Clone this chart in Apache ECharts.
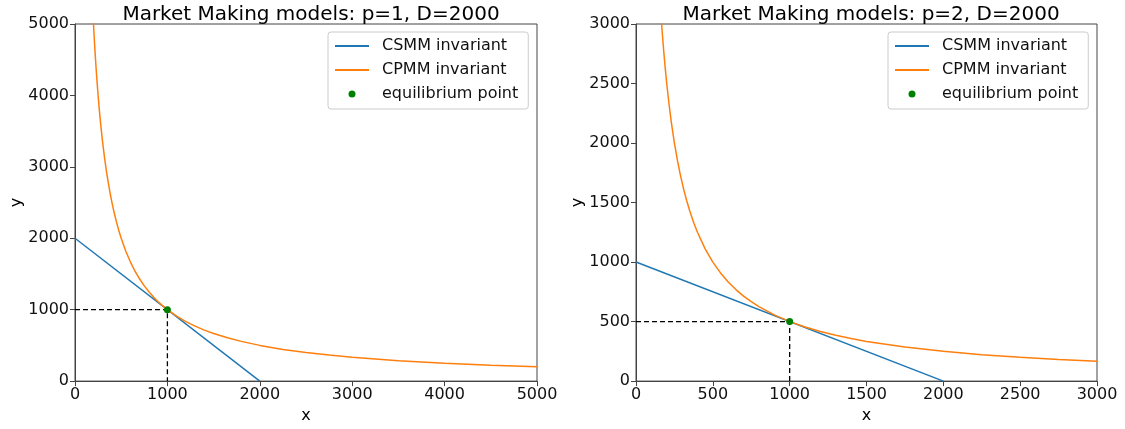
<!DOCTYPE html>
<html><head><meta charset="utf-8">
<script src="https://cdn.jsdelivr.net/npm/echarts@6/dist/echarts.min.js"></script>
<style>html,body{margin:0;padding:0;background:#fff}#c{width:1125px;height:429px}</style>
</head><body><div id="c"></div>
<script>
var titles = ['Market Making models: p=1, D=2000', 'Market Making models: p=2, D=2000'];
// Left panel: p=1, D=2000
var csmm1X = [0, 2000];
var csmm1Y = [2000, 0];
var cpmm1X = [195, 200, 210, 220, 230, 240, 250, 265, 280, 300, 320, 340, 360, 380, 400, 425, 450, 475, 500, 550, 600, 650, 700, 750, 800, 850, 900, 950, 1000, 1100, 1200, 1300, 1400, 1500, 1650, 1800, 2000, 2250, 2500, 2750, 3000, 3500, 4000, 4500, 5000];
var cpmm1Y = [5128, 5000, 4762, 4545, 4348, 4167, 4000, 3774, 3571, 3333, 3125, 2941, 2778, 2632, 2500, 2353, 2222, 2105, 2000, 1818, 1667, 1538, 1429, 1333, 1250, 1176, 1111, 1053, 1000, 909, 833, 769, 714, 667, 606, 556, 500, 444, 400, 364, 333, 286, 250, 222, 200];
var eq1 = [1000, 1000];
// Right panel: p=2, D=2000
var csmm2X = [0, 2000];
var csmm2Y = [1000, 0];
var cpmm2X = [160, 170, 180, 190, 200, 215, 230, 250, 270, 290, 310, 330, 350, 375, 400, 450, 500, 550, 600, 650, 700, 750, 800, 900, 1000, 1100, 1200, 1300, 1400, 1500, 1750, 2000, 2250, 2500, 2750, 3000];
var cpmm2Y = [3125, 2941, 2778, 2632, 2500, 2326, 2174, 2000, 1852, 1724, 1613, 1515, 1429, 1333, 1250, 1111, 1000, 909, 833, 769, 714, 667, 625, 556, 500, 455, 417, 385, 357, 333, 286, 250, 222, 200, 182, 167];
var eq2 = [1000, 500];
var xTicks1 = [0, 1000, 2000, 3000, 4000, 5000];
var yTicks1 = [0, 1000, 2000, 3000, 4000, 5000];
var xTicks2 = [0, 500, 1000, 1500, 2000, 2500, 3000];
var yTicks2 = [0, 500, 1000, 1500, 2000, 2500, 3000];
var legendNames = ['CSMM invariant', 'CPMM invariant', 'equilibrium point'];

var FONT = 'DejaVu Sans';
function zip(a, b) { return a.map(function (v, i) { return [v, b[i]]; }); }
function axis(ticks, gi, name, isY) {
  return {
    type: 'value', gridIndex: gi, min: ticks[0], max: ticks[ticks.length - 1],
    interval: ticks[1] - ticks[0],
    name: name, nameLocation: 'middle', nameGap: isY ? 50 : 22,
    nameTextStyle: { fontFamily: FONT, fontSize: 16, color: '#000' },
    axisLine: { show: true, onZero: false, lineStyle: { color: '#444', width: 1 } },
    axisTick: { show: true, length: 5, lineStyle: { color: '#444' } },
    axisLabel: { fontFamily: FONT, fontSize: 16, color: '#111', margin: 6, formatter: function (v) { return String(v); } },
    splitLine: { show: false }
  };
}
function seriesFor(gi, cx, cy, px, py, eq) {
  return [
    { name: legendNames[0], type: 'line', xAxisIndex: gi, yAxisIndex: gi, data: zip(cx, cy),
      symbol: 'none', lineStyle: { color: '#1f77b4', width: 1.5 }, itemStyle: { color: '#1f77b4' }, clip: true },
    { name: legendNames[1], type: 'line', xAxisIndex: gi, yAxisIndex: gi, data: zip(px, py),
      symbol: 'none', smooth: false, lineStyle: { color: '#ff7f0e', width: 1.5 }, itemStyle: { color: '#ff7f0e' }, clip: true },
    { name: 'guide', type: 'line', xAxisIndex: gi, yAxisIndex: gi,
      data: [[0, eq[1]], [eq[0], eq[1]], [eq[0], 0]], symbol: 'none',
      lineStyle: { color: '#000', width: 1.3, type: [5, 3] }, silent: true },
    { name: legendNames[2], type: 'scatter', xAxisIndex: gi, yAxisIndex: gi, data: [eq],
      symbol: 'circle', symbolSize: 7, itemStyle: { color: '#008000', opacity: 1 }, z: 5 }
  ];
}
var hiddenSym = { color: 'rgba(0,0,0,0)', borderWidth: 0, opacity: 0 };
function legend(left) {
  return {
    orient: 'vertical', left: left, top: 32, padding: [6, 10, 7, 6],
    borderColor: '#ccc', borderWidth: 1, borderRadius: 3, backgroundColor: '#fff',
    itemWidth: 34, itemHeight: 7, itemGap: 8,
    textStyle: { fontFamily: FONT, fontSize: 16, color: '#111', padding: [0, 0, 0, 8] },
    data: [
      { name: legendNames[0], itemStyle: hiddenSym },
      { name: legendNames[1], itemStyle: hiddenSym },
      { name: legendNames[2], icon: 'circle' }
    ]
  };
}
var chart = echarts.init(document.getElementById('c'), null, { renderer: 'canvas' });
var opt = {
  animation: false,
  title: [
    { text: titles[0], left: 306, top: 0, textAlign: 'center', textStyle: { fontFamily: FONT, fontSize: 20, fontWeight: 'normal', color: '#000' } },
    { text: titles[1], left: 866, top: 0, textAlign: 'center', textStyle: { fontFamily: FONT, fontSize: 20, fontWeight: 'normal', color: '#000' } }
  ],
  grid: [
    { left: 75, top: 24, width: 462, height: 359, show: true, borderColor: '#444', borderWidth: 1 },
    { left: 636, top: 24, width: 461, height: 359, show: true, borderColor: '#444', borderWidth: 1 }
  ],
  xAxis: [axis(xTicks1, 0, 'x', false), axis(xTicks2, 1, 'x', false)],
  yAxis: [axis(yTicks1, 0, 'y', true), axis(yTicks2, 1, 'y', true)],
  legend: [legend(328), legend(888)],
  series: seriesFor(0, csmm1X, csmm1Y, cpmm1X, cpmm1Y, eq1).concat(seriesFor(1, csmm2X, csmm2Y, cpmm2X, cpmm2Y, eq2))
};
chart.setOption(opt);
</script></body></html>
